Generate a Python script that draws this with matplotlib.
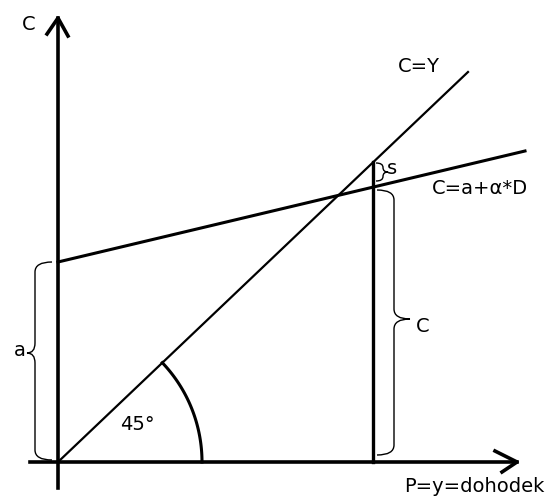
import numpy as np
import matplotlib.pyplot as plt
from matplotlib.path import Path
from matplotlib.patches import PathPatch

# diagram in pixel coordinates (y grows downward)
origin = (58, 462)
y_axis_y = [18, 488]
x_axis_x = [30, 517]
line45_x = [58, 468]
line45_y = [462, 72]
cons_x = [58, 525]
cons_y = [262, 151]
income_x = 373
income_y = [162, 462]
arc_r = 144
arc_deg = [0, 43.6]

# braces: (end x, spine x, tip x, top y, tip y, bottom y)
braces = {
    'a': (52, 35, 27, 262, 353, 460),
    'C': (377, 394, 410, 190, 319, 455),
    's': (376, 383, 388, 163, 172, 181),
}
labels = [
    ('C', 22, 24),
    ('C=Y', 398, 66),
    ('C=a+\u03b1*D', 432, 188),
    ('s', 387, 168),
    ('C', 416, 327),
    ('a', 14, 350),
    ('45\u00b0', 120, 425),
    ('P=y=dohodek', 404, 486),
]


def brace(xe, xs, xt, yt, ym, yb, r=10):
    verts = [(xe, yt), (xs, yt), (xs, yt + r), (xs, ym - r), (xs, ym), (xt, ym),
             (xs, ym), (xs, ym + r), (xs, yb - r), (xs, yb), (xe, yb)]
    codes = [Path.MOVETO, Path.CURVE3, Path.CURVE3, Path.LINETO, Path.CURVE3, Path.CURVE3,
             Path.CURVE3, Path.CURVE3, Path.LINETO, Path.CURVE3, Path.CURVE3]
    return PathPatch(Path(verts, codes), fill=False, lw=1.0, color='black')


fig = plt.figure(figsize=(5.56, 4.97), dpi=100)
ax = fig.add_axes([0, 0, 1, 1])
ax.set_xlim(0, 556)
ax.set_ylim(497, 0)
ax.axis('off')

# axes
ax.plot([origin[0], origin[0]], y_axis_y, color='black', lw=2.6)
ax.plot(x_axis_x, [origin[1], origin[1]], color='black', lw=2.6)
ax.plot([47, 58, 68], [34, 18, 36], color='black', lw=2.6)
ax.plot([495, 517, 502], [451, 462, 472], color='black', lw=2.6)

# lines
ax.plot(line45_x, line45_y, color='black', lw=1.6)
ax.plot(cons_x, cons_y, color='black', lw=2.2)
ax.plot([income_x, income_x], income_y, color='black', lw=2.4)

t = np.radians(np.linspace(arc_deg[0], arc_deg[1], 60))
ax.plot(origin[0] + arc_r * np.cos(t), origin[1] - arc_r * np.sin(t), color='black', lw=2.2)

for k, b in braces.items():
    ax.add_patch(brace(*b, r=min(10, (b[5] - b[3]) / 4)))

for txt, x, y in labels:
    ax.text(x, y, txt, fontsize=14, va='center', ha='left', color='black')

fig.savefig('out.png', dpi=100)
